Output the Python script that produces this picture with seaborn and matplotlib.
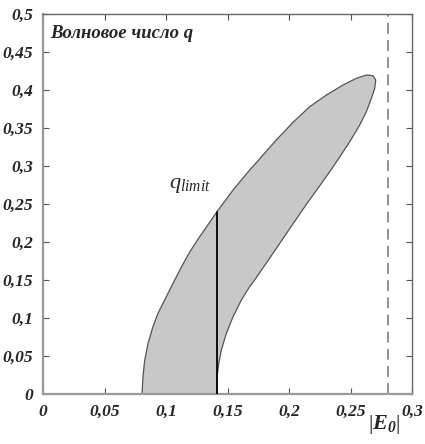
import matplotlib
matplotlib.use("Agg")
import matplotlib.pyplot as plt
import seaborn as sns

# Data
left_x = [0.0805, 0.0813, 0.0827, 0.0854, 0.0894, 0.0935, 0.0989, 0.1057, 0.1125,
          0.1193, 0.1274, 0.1415, 0.1545, 0.1680, 0.1762, 0.1816, 0.1898, 0.2033,
          0.2168, 0.2304, 0.2439, 0.2548, 0.2629, 0.2683, 0.2705]
left_y = [0.0, 0.0228, 0.0447, 0.0667, 0.0886, 0.1062, 0.1237, 0.1456, 0.1670,
          0.1870, 0.2070, 0.2400, 0.2684, 0.2947, 0.3095, 0.3195, 0.3345, 0.3575,
          0.3780, 0.3934, 0.4066, 0.4154, 0.4197, 0.4188, 0.4132]
right_x = [0.2697, 0.2670, 0.2629, 0.2575, 0.2494, 0.2413, 0.2331, 0.2250, 0.2141,
           0.2033, 0.1924, 0.1829, 0.1721, 0.1680, 0.1613, 0.1545, 0.1491, 0.1450,
           0.1429, 0.1415, 0.1412]
right_y = [0.4022, 0.3891, 0.3714, 0.3539, 0.3320, 0.3120, 0.2925, 0.2740, 0.2495,
           0.2240, 0.1980, 0.1755, 0.1500, 0.1412, 0.1237, 0.1017, 0.0799, 0.0579,
           0.0404, 0.0228, 0.0]
q_limit_x = 0.1415
q_limit_y = 0.240
e_crit = 0.2805

x_ticks = [0, 0.05, 0.1, 0.15, 0.2, 0.25, 0.3]
x_labels = ["0", "0,05", "0,1", "0,15", "0,2", "0,25", "0,3"]
y_ticks = [0, 0.05, 0.1, 0.15, 0.2, 0.25, 0.3, 0.35, 0.4, 0.45, 0.5]
y_labels = ["0", "0,05", "0,1", "0,15", "0,2", "0,25", "0,3", "0,35", "0,4", "0,45", "0,5"]

sns.set_theme(style="white")
plt.rcParams["font.family"] = ["Liberation Serif", "DejaVu Serif"]
plt.rcParams["mathtext.fontset"] = "custom"
plt.rcParams["mathtext.rm"] = "Liberation Serif"
plt.rcParams["mathtext.it"] = "Liberation Serif:italic"
plt.rcParams["mathtext.bf"] = "Liberation Serif:bold"
plt.rcParams["mathtext.bfit"] = "Liberation Serif:bold:italic"

fig = plt.figure(figsize=(4.25, 4.44), dpi=100)
ax = fig.add_axes([43/425, 50/444, 369/425, 380/444])

bx = list(left_x) + list(right_x)
by = list(left_y) + list(right_y)
ax.fill(bx, by, color="#c8c8c8", zorder=1, linewidth=0)
sns.lineplot(x=bx + [bx[0]], y=by + [by[0]], sort=False, estimator=None,
             color="#555555", linewidth=0.9, ax=ax, zorder=2)
sns.lineplot(x=[q_limit_x, q_limit_x], y=[0, q_limit_y], sort=False, estimator=None,
             color="black", linewidth=1.3, ax=ax, zorder=3)
ax.axvline(e_crit, color="#888888", linewidth=1.3, linestyle=(0, (6, 3.5)), zorder=2)

ax.set_xlim(0, 0.3)
ax.set_ylim(0, 0.5)
ax.set_xticks(x_ticks)
ax.set_xticklabels(x_labels)
ax.set_yticks(y_ticks)
ax.set_yticklabels(y_labels)
ax.tick_params(direction="in", length=4, width=0.8, color="#555555",
               top=True, right=True, bottom=True, left=True,
               labelsize=12.5, pad=7)
for lab in ax.get_xticklabels() + ax.get_yticklabels():
    lab.set_fontweight("bold")
    lab.set_fontstyle("italic")
for s in ax.spines.values():
    s.set_color("#666666")
    s.set_linewidth(1.0)
ax.spines["left"].set_color("#999999")
ax.spines["left"].set_linewidth(1.6)
ax.spines["bottom"].set_color("#999999")
ax.spines["bottom"].set_linewidth(1.6)
ax.set_xlabel("")
ax.set_ylabel("")

ax.text(0.0055, 0.475, "Волновое число q", fontsize=13.5, fontweight="bold",
        fontstyle="italic", ha="left", va="center")
ax.text(0.1193, 0.274, r"$q_{limit}$", fontsize=16, ha="center", va="center")
fig.text(384/425, 1 - 424/444, r"$|\mathbfit{E}_{\mathbfit{0}}|$", fontsize=16,
         ha="center", va="center")

fig.savefig("out.png", dpi=100)
